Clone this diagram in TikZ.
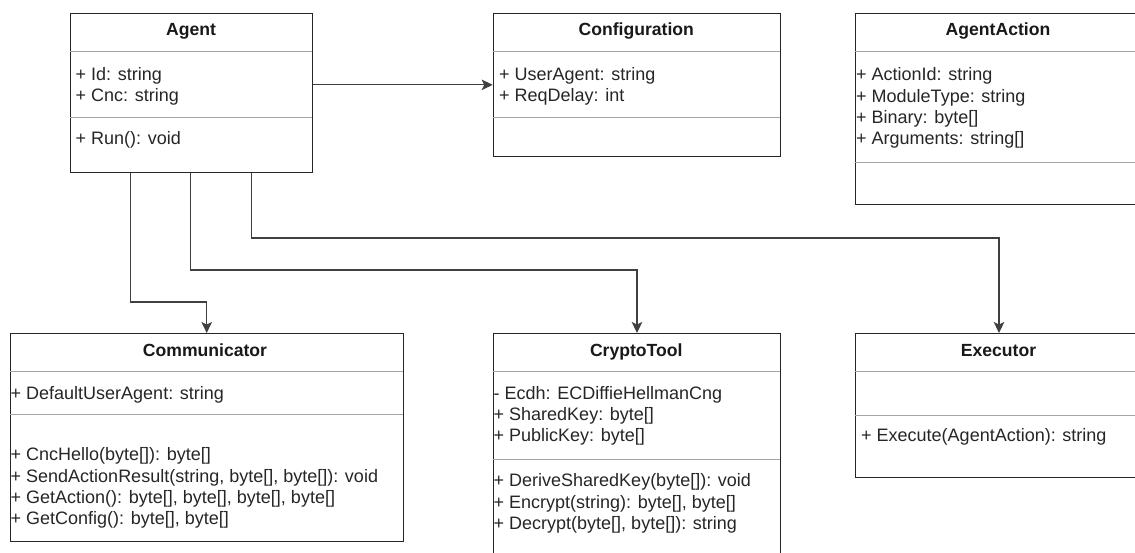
\documentclass[tikz,border=0pt]{standalone}
\usepackage{fontspec}
\setmainfont{Liberation Sans}
\usetikzlibrary{arrows.meta}
\begin{document}
\begin{tikzpicture}[x=1pt,y=-1pt,
  classbox/.style={draw=black!85, line width=1pt, fill=white, inner sep=0pt, anchor=north west},
  divider/.style={draw=black!35, line width=1pt},
  title/.style={font=\fontsize{17.6}{21}\selectfont\bfseries, text=black!90, inner sep=0pt, anchor=base},
  member/.style={font=\fontsize{18}{21}\selectfont, text=black!85, inner sep=0pt, anchor=base west},
  conn/.style={draw=black!75, line width=1.1pt, -{Stealth[length=11pt,width=10.5pt,inset=2.5pt]}}]
\clip (0,0) rectangle (1135,552);
\fill[white] (0,0) rectangle (1135,552);

% class boxes
\node[classbox, minimum width=242pt, minimum height=159.3pt] (agent) at (70,12.7) {};
\node[classbox, minimum width=287.3pt, minimum height=143.3pt] (config) at (492.7,12.7) {};
\node[classbox, minimum width=287.3pt, minimum height=191.3pt] (action) at (855,12.7) {};
\node[classbox, minimum width=392.7pt, minimum height=208pt] (comm) at (10,333) {};
\node[classbox, minimum width=287.3pt, minimum height=240pt] (crypto) at (492.7,333) {};
\node[classbox, minimum width=287.3pt, minimum height=144pt] (exec) at (855,333) {};

% compartment dividers
\draw[divider] (70,51) -- (312,51) (70,117) -- (312,117);
\draw[divider] (492.7,51) -- (780,51) (492.7,117) -- (780,117);
\draw[divider] (855,51) -- (1142.3,51) (855,162) -- (1142.3,162);
\draw[divider] (10,371) -- (402.7,371) (10,414.3) -- (402.7,414.3);
\draw[divider] (492.7,371) -- (780,371) (492.7,459) -- (780,459);
\draw[divider] (855,371) -- (1142.3,371) (855,415) -- (1142.3,415);

% class names
\node[title] (agentT) at (191,35.5) {Agent};
\node[title] (configT) at (636.3,35.5) {Configuration};
\node[title] (actionT) at (998,35.5) {AgentAction};
\node[title] (commT) at (205,356) {Communicator};
\node[title] (cryptoT) at (636.3,356) {CryptoTool};
\node[title] (execT) at (998.5,356) {Executor};

% members
\foreach \txt [count=\i] in {{+ Id: string},{+ Cnc: string}}
  \node[member] (agentA\i) at (75.5,80.5+21.3*\i-21.3) {\txt};
\node[member] (agentM1) at (75.5,144) {+ Run(): void};

\foreach \txt [count=\i] in {{+ UserAgent: string},{+ ReqDelay: int}}
  \node[member] (configA\i) at (499,80.5+21.3*\i-21.3) {\txt};

\foreach \txt [count=\i] in {{+ ActionId: string},{+ ModuleType: string},{+ Binary: byte[]},{+ Arguments: string[]}}
  \node[member] (actionA\i) at (856,80.8+21.3*\i-21.3) {\txt};

\node[member] (commA1) at (10.5,399.3) {+ DefaultUserAgent: string};
\foreach \txt [count=\i] in {{+ CncHello(byte[]): byte[]},{+ SendActionResult(string, byte[], byte[]): void},{+ GetAction(): byte[], byte[], byte[], byte[]},{+ GetConfig(): byte[], byte[]}}
  \node[member] (commM\i) at (10.5,460.7+21.3*\i-21.3) {\txt};

\foreach \txt [count=\i] in {{- Ecdh: ECDiffieHellmanCng},{+ SharedKey: byte[]},{+ PublicKey: byte[]}}
  \node[member] (cryptoA\i) at (493.5,399.3+21.3*\i-21.3) {\txt};
\foreach \txt [count=\i] in {{+ DeriveSharedKey(byte[]): void},{+ Encrypt(string): byte[], byte[]},{+ Decrypt(byte[], byte[]): string}}
  \node[member] (cryptoM\i) at (493.5,486.7+21.3*\i-21.3) {\txt};

\node[member] (execM1) at (861,441.7) {+ Execute(AgentAction): string};

% associations
\draw[conn] (agent.east |- config.west) -- (config.west);
\draw[conn] ([xshift=60.7pt]agent.south west) -- ++(0,129) -| ([xshift=196.7pt]comm.north west);
\draw[conn] ([xshift=120.7pt]agent.south west) -- ++(0,97) -| ([xshift=144.3pt]crypto.north west);
\draw[conn] ([xshift=181.7pt]agent.south west) -- ++(0,65) -| ([xshift=144pt]exec.north west);
\end{tikzpicture}
\end{document}
